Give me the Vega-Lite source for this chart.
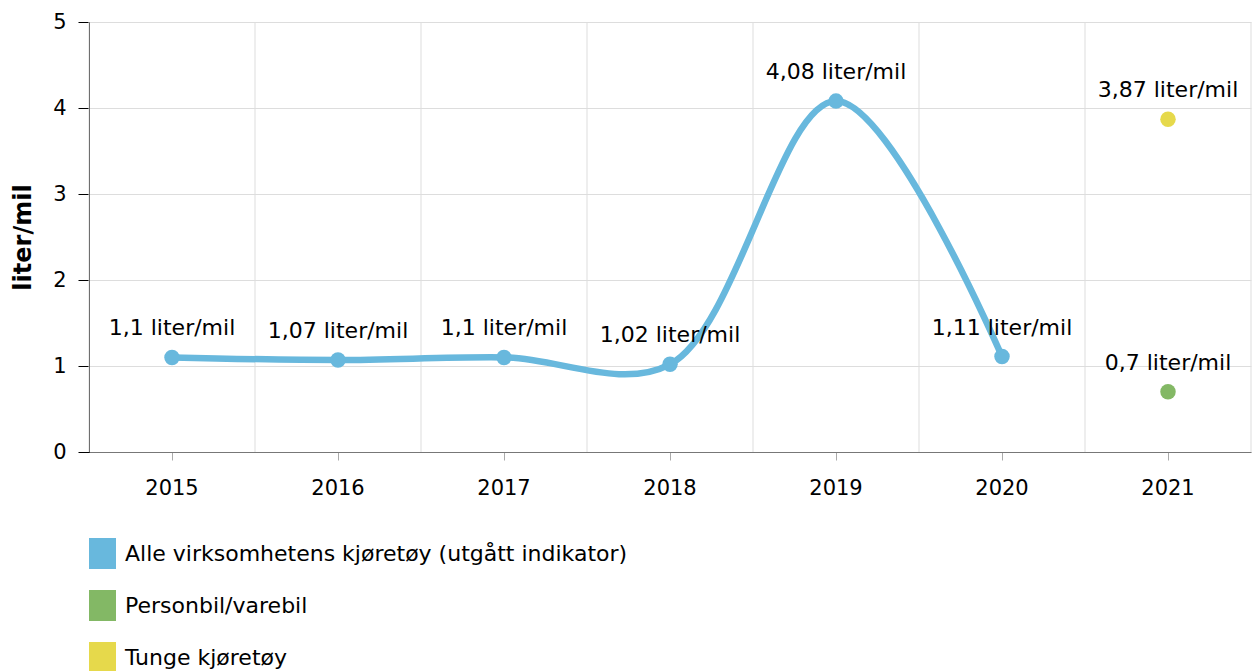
{
  "$schema": "https://vega.github.io/schema/vega-lite/v6.json",
  "width": 1162,
  "height": 430,
  "autosize": {"type": "none"},
  "padding": {"left": 89, "top": 22, "right": 2, "bottom": 219},
  "config": {"font": "DejaVu Sans", "view": {"stroke": null}},
  "data": {
    "values": [
      {"year": "2015", "series": "Alle virksomhetens kjøretøy (utgått indikator)", "value": 1.1, "label": "1,1 liter/mil"},
      {"year": "2016", "series": "Alle virksomhetens kjøretøy (utgått indikator)", "value": 1.07, "label": "1,07 liter/mil"},
      {"year": "2017", "series": "Alle virksomhetens kjøretøy (utgått indikator)", "value": 1.1, "label": "1,1 liter/mil"},
      {"year": "2018", "series": "Alle virksomhetens kjøretøy (utgått indikator)", "value": 1.02, "label": "1,02 liter/mil"},
      {"year": "2019", "series": "Alle virksomhetens kjøretøy (utgått indikator)", "value": 4.08, "label": "4,08 liter/mil"},
      {"year": "2020", "series": "Alle virksomhetens kjøretøy (utgått indikator)", "value": 1.11, "label": "1,11 liter/mil"},
      {"year": "2021", "series": "Personbil/varebil", "value": 0.7, "label": "0,7 liter/mil"},
      {"year": "2021", "series": "Tunge kjøretøy", "value": 3.87, "label": "3,87 liter/mil"}
    ]
  },
  "encoding": {
    "x": {
      "field": "year", "type": "ordinal",
      "scale": {"type": "band", "paddingInner": 0, "paddingOuter": 0},
      "axis": {"title": null, "labelAngle": 0, "labelFontSize": 21, "labelColor": "#000000", "labelPadding": 17, "tickSize": 8, "tickColor": "#aaaaaa", "domainColor": "#777777", "grid": false}
    },
    "y": {
      "field": "value", "type": "quantitative",
      "scale": {"domain": [0, 5], "nice": false, "zero": true},
      "axis": {"title": "liter/mil", "titleFontSize": 24, "titleFontWeight": "bold", "titleColor": "#000000", "titlePadding": 17, "values": [0, 1, 2, 3, 4, 5], "labelFontSize": 21, "labelColor": "#000000", "labelPadding": 12, "tickSize": 11, "tickColor": "#000000", "domainColor": "#000000", "gridColor": "#dddddd"}
    }
  },
  "layer": [
    {
      "transform": [{"aggregate": [], "groupby": ["year"]}],
      "mark": {"type": "rule", "color": "#dddddd", "strokeWidth": 1},
      "encoding": {
        "x": {
          "field": "year", "type": "ordinal", "bandPosition": 0,
          "scale": {"type": "band", "paddingInner": 0, "paddingOuter": 0},
          "axis": {"title": null, "labelAngle": 0, "labelFontSize": 21, "labelColor": "#000000", "labelPadding": 17, "tickSize": 8, "tickColor": "#aaaaaa", "domainColor": "#777777", "grid": false}
        },
        "y": null
      }
    },
    {
      "transform": [{"filter": "datum.year == '2021' && datum.series == 'Tunge kjøretøy'"}],
      "mark": {"type": "rule", "color": "#dddddd", "strokeWidth": 1},
      "encoding": {
        "x": {
          "field": "year", "type": "ordinal", "bandPosition": 1,
          "scale": {"type": "band", "paddingInner": 0, "paddingOuter": 0},
          "axis": {"title": null, "labelAngle": 0, "labelFontSize": 21, "labelColor": "#000000", "labelPadding": 17, "tickSize": 8, "tickColor": "#aaaaaa", "domainColor": "#777777", "grid": false}
        },
        "y": null
      }
    },
    {
      "transform": [{"filter": "datum.series == 'Alle virksomhetens kjøretøy (utgått indikator)'"}],
      "mark": {"type": "line", "interpolate": "catmull-rom", "strokeWidth": 6.5},
      "encoding": {
        "color": {
          "field": "series", "type": "nominal",
          "scale": {"domain": ["Alle virksomhetens kjøretøy (utgått indikator)", "Personbil/varebil", "Tunge kjøretøy"], "range": ["#68b8dd", "#83b865", "#e6d94b"]},
          "legend": {"orient": "none", "legendX": -2, "legendY": 516, "direction": "vertical", "title": null, "labelFontSize": 22, "labelColor": "#000000", "labelLimit": 0, "symbolType": "M-0.87,-1H0.87V1H-0.87Z", "symbolSize": 961, "symbolStrokeWidth": 0, "symbolOpacity": 1, "rowPadding": 21, "labelOffset": 7, "padding": 0}
        }
      }
    },
    {
      "mark": {"type": "circle", "opacity": 1, "size": 240},
      "encoding": {
        "color": {
          "field": "series", "type": "nominal",
          "scale": {"domain": ["Alle virksomhetens kjøretøy (utgått indikator)", "Personbil/varebil", "Tunge kjøretøy"], "range": ["#68b8dd", "#83b865", "#e6d94b"]},
          "legend": {"orient": "none", "legendX": -2, "legendY": 516, "direction": "vertical", "title": null, "labelFontSize": 22, "labelColor": "#000000", "labelLimit": 0, "symbolType": "M-0.87,-1H0.87V1H-0.87Z", "symbolSize": 961, "symbolStrokeWidth": 0, "symbolOpacity": 1, "rowPadding": 21, "labelOffset": 7, "padding": 0}
        }
      }
    },
    {
      "mark": {"type": "text", "fontSize": 22, "color": "#000000", "baseline": "alphabetic", "dy": -22},
      "encoding": {"text": {"field": "label", "type": "nominal"}}
    }
  ]
}
